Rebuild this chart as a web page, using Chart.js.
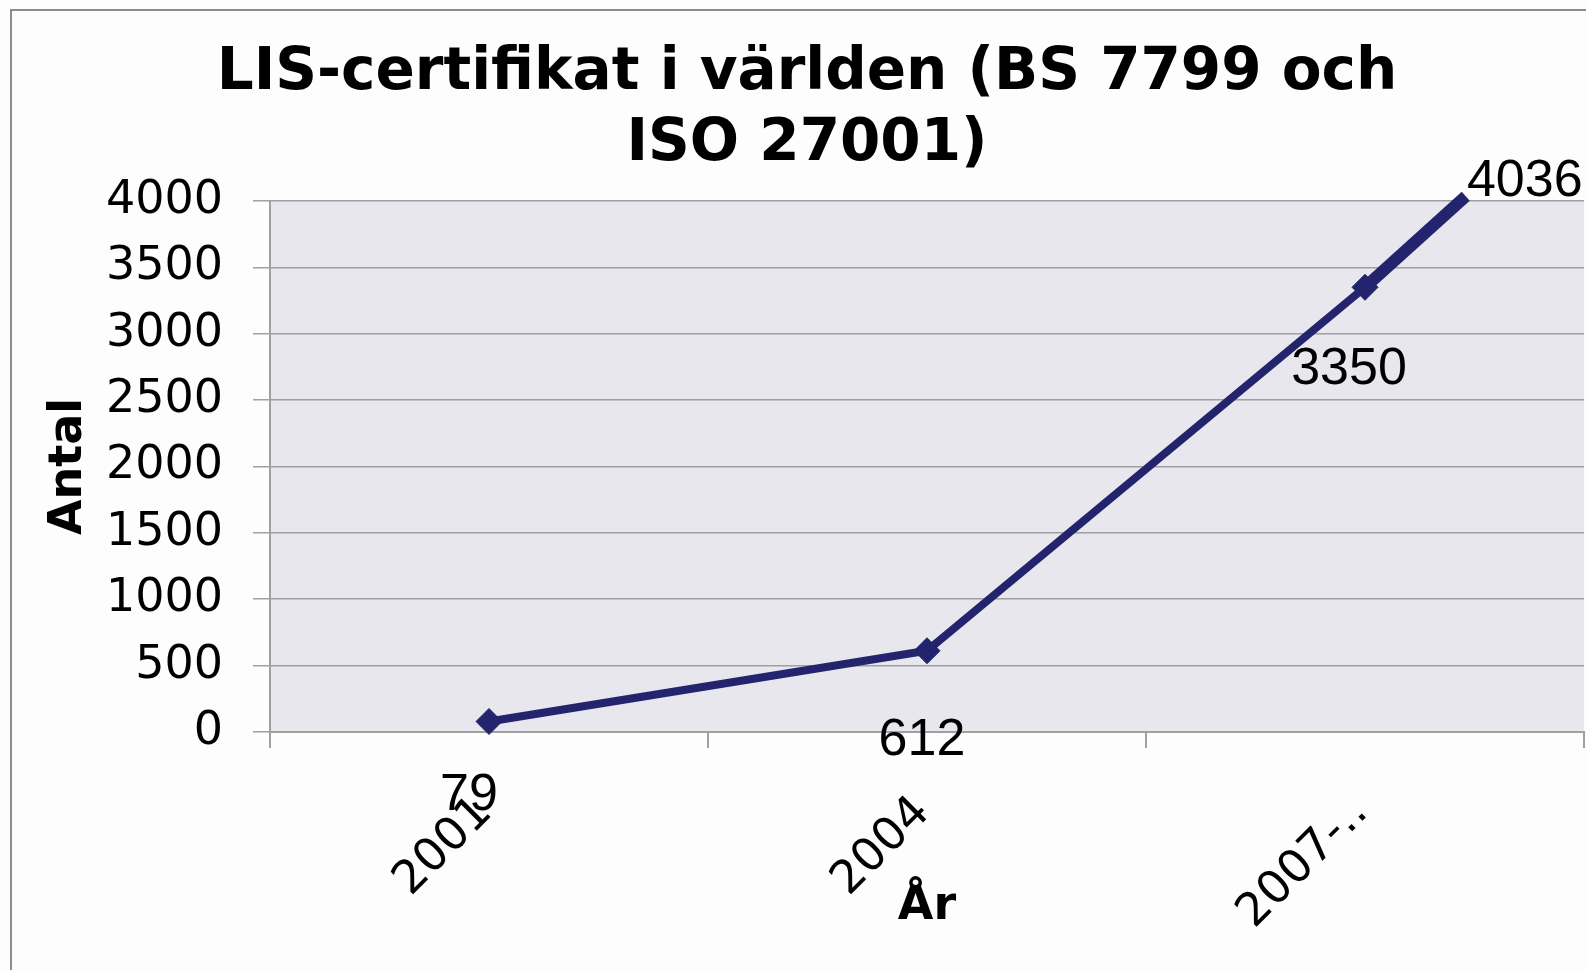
<!DOCTYPE html>
<html>
<head>
<meta charset="utf-8">
<script src="https://cdn.jsdelivr.net/npm/chart.js@4.4.0/dist/chart.umd.min.js"></script>
<style>
html,body{margin:0;padding:0;background:#fdfdfd;}
canvas{display:block;}
</style>
</head>
<body>
<canvas id="c" width="1586" height="970"></canvas>
<script>
// ---- data ----
const categories = ['2001', '2004', '2007-..'];
const values = [79, 612, 3350];
const finalValue = 4036;
const finalPosition = 2.23;          // where the last value ends along the category axis
const yMin = 0, yMax = 4000, yStep = 500;
const titleLines = ['LIS-certifikat i världen (BS 7799 och', 'ISO 27001)'];
const yTitle = 'Antal';
const xTitle = 'År';

// ---- styling ----
const navy = '#24246e';
const gridGray = '#a0a0a0';
const labelOffsets = [[-20, 74], [-5, 90], [-16, 82]];
const finalLabelOffset = [59, -15];

const mainPoints = values.map((v, i) => ({x: i, y: v}));
const finalPoints = [{x: categories.length - 1, y: values[values.length - 1]}, {x: finalPosition, y: finalValue}];

const bgPlugin = {
  id: 'bg',
  beforeDraw(chart) {
    const ctx = chart.ctx, a = chart.chartArea;
    ctx.save();
    ctx.fillStyle = '#fdfdfd';
    ctx.fillRect(0, 0, chart.width, chart.height);
    ctx.fillStyle = '#8c8c8c';
    ctx.fillRect(10, 9, 2, chart.height - 9);
    ctx.fillRect(10, 9, chart.width - 10, 2);
    ctx.fillStyle = '#e7e7ed';
    ctx.fillRect(a.left, a.top, a.right - a.left, a.bottom - a.top);
    ctx.restore();
  }
};

const labelPlugin = {
  id: 'valueLabels',
  afterDatasetsDraw(chart) {
    const ctx = chart.ctx;
    ctx.save();
    ctx.font = '52px "Liberation Sans", Arial, sans-serif';
    ctx.fillStyle = '#000';
    ctx.textAlign = 'center';
    ctx.textBaseline = 'middle';
    const m0 = chart.getDatasetMeta(0);
    m0.data.forEach((pt, i) => {
      ctx.fillText(String(values[i]), pt.x + labelOffsets[i][0], pt.y + labelOffsets[i][1]);
    });
    const m1 = chart.getDatasetMeta(1);
    const last = m1.data[m1.data.length - 1];
    ctx.fillText(String(finalValue), last.x + finalLabelOffset[0], last.y + finalLabelOffset[1]);
    ctx.restore();
  }
};

new Chart(document.getElementById('c'), {
  type: 'line',
  data: {
    datasets: [
      {
        data: mainPoints,
        borderColor: navy,
        backgroundColor: navy,
        borderWidth: 8,
        pointStyle: 'rectRot',
        pointRadius: 13,
        pointBackgroundColor: navy,
        pointBorderColor: navy,
        pointBorderWidth: 1,
        tension: 0,
        clip: false
      },
      {
        data: finalPoints,
        borderColor: navy,
        borderWidth: 12,
        borderCapStyle: 'butt',
        pointRadius: 0,
        tension: 0,
        clip: false
      }
    ]
  },
  options: {
    responsive: false,
    animation: false,
    devicePixelRatio: 1,
    layout: {autoPadding: false, padding: {left: 30, right: 2, top: 0, bottom: 0}},
    plugins: {
      legend: {display: false},
      tooltip: {enabled: false},
      title: {
        display: true,
        text: titleLines,
        color: '#000',
        font: {family: '"DejaVu Sans", Verdana, sans-serif', size: 58, weight: 'bold', lineHeight: 1.224},
        padding: {top: 38, bottom: 21}
      }
    },
    scales: {
      x: {
        type: 'linear',
        min: -0.5,
        max: categories.length - 0.5,
        afterBuildTicks(scale) { scale.ticks = categories.map((c, i) => ({value: i})); },
        afterFit(scale) { scale.height = 238; scale.paddingLeft = 0; scale.paddingRight = 0; },
        ticks: {
          autoSkip: false,
          minRotation: 45,
          maxRotation: 45,
          padding: 38,
          labelOffset: -4,
          color: '#000',
          font: {family: '"DejaVu Sans", Verdana, sans-serif', size: 46},
          callback: (v) => categories[v]
        },
        grid: {display: true, drawOnChartArea: false, drawTicks: true, tickLength: 16, offset: true, color: gridGray, lineWidth: 2},
        border: {display: true, color: gridGray, width: 2},
        title: {
          display: true,
          text: xTitle,
          color: '#000',
          font: {family: '"DejaVu Sans", Verdana, sans-serif', size: 46, weight: 'bold', lineHeight: 1.2},
          padding: {top: 35, bottom: 35}
        }
      },
      y: {
        min: yMin,
        max: yMax,
        afterFit(scale) { scale.width = 240; },
        ticks: {
          stepSize: yStep,
          padding: 30,
          color: '#000',
          font: {family: '"DejaVu Sans", Verdana, sans-serif', size: 46},
          callback: (v) => String(v)
        },
        grid: {color: gridGray, lineWidth: 1.5, tickLength: 17, drawTicks: true},
        border: {display: true, color: gridGray, width: 2},
        title: {
          display: true,
          text: yTitle,
          color: '#000',
          font: {family: '"DejaVu Sans", Verdana, sans-serif', size: 46, weight: 'bold', lineHeight: 1.2},
          padding: {top: 11, bottom: 11}
        }
      }
    }
  },
  plugins: [bgPlugin, labelPlugin]
});
</script>
</body>
</html>
